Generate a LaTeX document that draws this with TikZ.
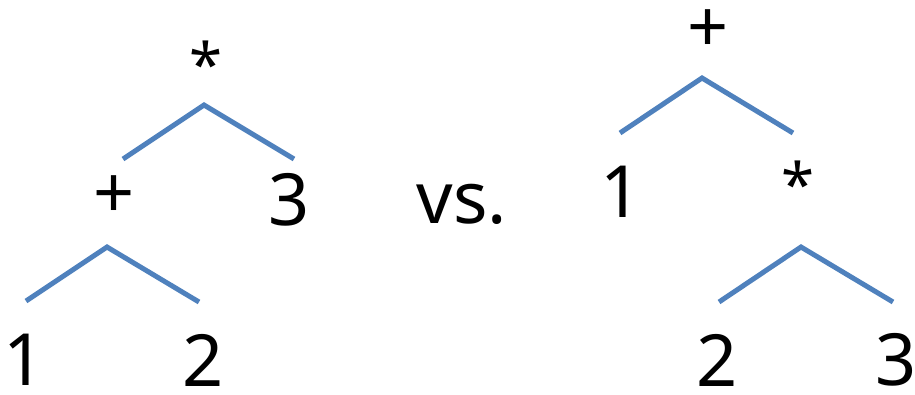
\documentclass[tikz,border=0pt]{standalone}
\usepackage{fontspec}
\setmainfont{Noto Sans}
\usepackage{tikz}
\definecolor{treeblue}{HTML}{4F81BD}

\begin{document}
\begin{tikzpicture}[x=1pt,y=-1pt]
      \tikzstyle{sym}=[inner sep=0pt,font=\fontsize{72}{78}\selectfont]
      \tikzstyle{star}=[sym,font=\fontsize{60}{66}\selectfont]
      \tikzstyle{branch}=[line width=5pt,draw=treeblue]
      \useasboundingbox (0,0) rectangle (915,394);

      \begin{scope}
        \node[star](times)at(206,64){*};
        \node[sym](plus)at(114,197){+};
        \node[sym](c3)at(289,200){3};
        \node[sym](c1)at(24,360){1};
        \node[sym](c2)at(203,360){2};
        \coordinate(topl)at(123,159);
        \coordinate(topc)at(204,105);
        \coordinate(topr)at(294,159);
        \coordinate(botl)at(26,301);
        \coordinate(botc)at(107,247);
        \coordinate(botr)at(199,302);

        \draw[branch] (topl) -- (topc) -- (topr);
        \draw[branch] (botl) -- (botc) -- (botr);
      \end{scope}

      \node[sym](vs)at(462,204){vs.};

      \begin{scope}
        \node[sym](plus')at(708,31){+};
        \node[sym](c1')at(621,192){1};
        \node[star](times')at(798,184){*};
        \node[sym](c2')at(717,360){2};
        \node[sym](c3')at(896,360){3};
        \coordinate(topl')at(620,133);
        \coordinate(topc')at(702,78);
        \coordinate(topr')at(793,133);
        \coordinate(botl')at(719,302);
        \coordinate(botc')at(801,247);
        \coordinate(botr')at(893,302);

        \draw[branch] (topl') -- (topc') -- (topr');
        \draw[branch] (botl') -- (botc') -- (botr');
      \end{scope}
    \end{tikzpicture}
\end{document}
